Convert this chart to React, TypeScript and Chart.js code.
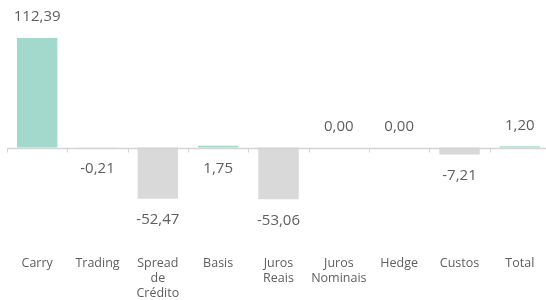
import React, { useEffect, useRef } from "react";
import { Chart, registerables } from "chart.js";

Chart.register(...registerables);

const categories: (string | string[])[] = [
  "Carry",
  "Trading",
  ["Spread", "de", "Crédito"],
  "Basis",
  ["Juros", "Reais"],
  ["Juros", "Nominais"],
  "Hedge",
  "Custos",
  "Total",
];
const values: number[] = [112.39, -0.21, -52.47, 1.75, -53.06, 0.0, 0.0, -7.21, 1.2];
const valueLabels: string[] = ["112,39", "-0,21", "-52,47", "1,75", "-53,06", "0,00", "0,00", "-7,21", "1,20"];
// label side for each value: 1 = above, -1 = below
const labelSide: number[] = [1, -1, -1, -1, -1, 1, 1, -1, 1];

const TEAL = "#a2d9cc";
const GRAY = "#d9d9d9";
const TEXT = "#605e5c";
const FONT = "'Open Sans', Lato, sans-serif";

const decorPlugin = {
  id: "decor",
  afterDatasetsDraw(chart: any) {
    const ctx = chart.ctx;
    const y = chart.scales.y;
    const yz = y.getPixelForValue(0);
    const y0 = Math.round(yz) + 0.5;
    const { left, right } = chart.chartArea;
    ctx.save();
    ctx.strokeStyle = "#d4d4d4";
    ctx.lineWidth = 1.5;
    ctx.beginPath();
    ctx.moveTo(left, y0);
    ctx.lineTo(right, y0);
    ctx.stroke();
    ctx.lineWidth = 1;
    const n = categories.length;
    const step = (right - left) / n;
    for (let i = 0; i <= n; i++) {
      const px = Math.round(left + i * step) + 0.5;
      ctx.beginPath();
      ctx.moveTo(px, y0);
      ctx.lineTo(px, y0 + 4);
      ctx.stroke();
    }
    ctx.fillStyle = TEXT;
    ctx.font = `15px ${FONT}`;
    ctx.textAlign = "center";
    ctx.textBaseline = "middle";
    const meta = chart.getDatasetMeta(0);
    meta.data.forEach((bar: any, i: number) => {
      const side = labelSide[i];
      const py = side > 0 ? Math.min(bar.y, yz) - 21 : Math.max(bar.y, yz) + 21;
      ctx.fillText(valueLabels[i], bar.x, py);
    });
    ctx.restore();
  },
};

export default function App() {
  const ref = useRef<HTMLCanvasElement | null>(null);
  useEffect(() => {
    if (!ref.current) return;
    const chart = new Chart(ref.current, {
      type: "bar",
      data: {
        labels: categories,
        datasets: [
          {
            data: values,
            backgroundColor: values.map((v) => (v >= 0 ? TEAL : GRAY)),
            barPercentage: 0.67,
            categoryPercentage: 1,
            borderWidth: 0,
          },
        ],
      },
      options: {
        animation: false,
        responsive: false,
        maintainAspectRatio: false,
        layout: { padding: { left: 7, right: 2, top: 30.6, bottom: 0 } },
        plugins: {
          legend: { display: false },
          tooltip: { enabled: false },
        },
        scales: {
          x: {
            grid: { display: false },
            border: { display: false },
            ticks: {
              color: TEXT,
              font: { family: FONT, size: 12.5, lineHeight: 1.2 },
              padding: 42,
              maxRotation: 0,
              autoSkip: false,
            },
            afterFit(scale: any) {
              scale.height = 94;
              scale.paddingLeft = 0;
              scale.paddingRight = 0;
            },
          },
          y: {
            display: false,
            min: -60,
            max: 120,
          },
        },
      },
      plugins: [decorPlugin],
    });
    return () => chart.destroy();
  }, []);
  return (
    <div style={{ position: "fixed", left: 0, top: 0, width: 546, height: 300, overflow: "hidden", background: "#fff" }}>
      <canvas ref={ref} width={552} height={300} style={{ width: 552, height: 300, display: "block" }} />
    </div>
  );
}
